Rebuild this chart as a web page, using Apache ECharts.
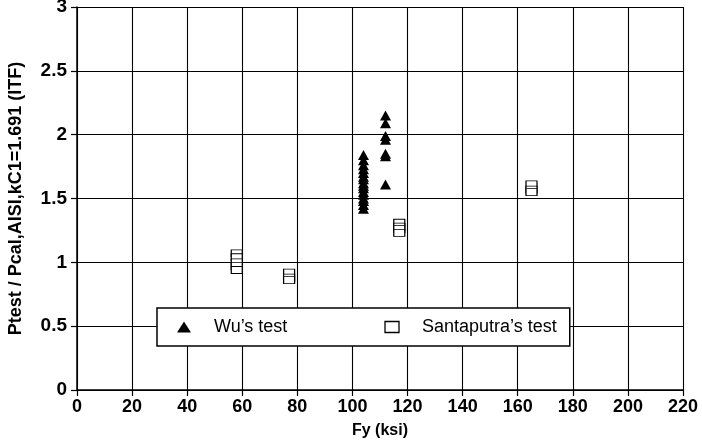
<!DOCTYPE html>
<html>
<head>
<meta charset="utf-8">
<script src="https://cdn.jsdelivr.net/npm/echarts@6/dist/echarts.min.js"></script>
<style>
    html, body { margin: 0; padding: 0; background: #fff; }
    #chart { width: 702px; height: 446px; }
</style>
</head>
<body>
<div id="chart"></div>
<script>
// Wu's test (triangles)
const wuFy = [104, 104, 104, 104, 104, 104, 104, 104, 104, 104, 104, 104, 104, 104, 104, 104,
              112, 112, 112, 112, 112, 112, 112];
const wuRatio = [1.84, 1.80, 1.76, 1.73, 1.70, 1.67, 1.65, 1.62, 1.60, 1.58, 1.55, 1.53, 1.50, 1.48, 1.45, 1.42,
                 2.15, 2.09, 1.99, 1.96, 1.85, 1.83, 1.61];

// Santaputra's test (squares)
const santFy = [58, 58, 58, 58, 58, 77, 77, 77, 117, 117, 117, 117, 165, 165, 165];
const santRatio = [1.07, 1.04, 1.00, 0.97, 0.94, 0.92, 0.88, 0.86, 1.31, 1.28, 1.26, 1.23, 1.61, 1.57, 1.55];

const xTicks = [0, 220, 20];
const yTicks = [0, 3, 0.5];

const zip = (a, b) => a.map((v, i) => [v, b[i]]);

const chart = echarts.init(document.getElementById('chart'));
const fontBold = { fontFamily: 'Liberation Sans', fontWeight: 'bold', color: '#000' };

chart.setOption({
    animation: false,
    grid: { left: 77, right: 19, top: 7, bottom: 56, outerBoundsMode: 'none', containLabel: false },
    legend: {
        left: 157, top: 308,
        padding: [10, 13, 10, 20],
        itemGap: 97,
        itemWidth: 14, itemHeight: 11,
        borderColor: '#000', borderWidth: 1.5,
        backgroundColor: '#fff',
        textStyle: { fontFamily: 'Liberation Sans', fontSize: 18, color: '#000', padding: [0, 0, 0, 18] },
        data: [
            { name: "Wu’s test", icon: 'triangle' },
            { name: "Santaputra’s test", icon: 'rect', itemStyle: { color: '#fff', borderColor: '#000', borderWidth: 1.3 } }
        ]
    },
    xAxis: {
        type: 'value',
        min: xTicks[0], max: xTicks[1], interval: xTicks[2],
        name: 'Fy (ksi)',
        nameLocation: 'middle', nameGap: 33,
        nameTextStyle: Object.assign({ fontSize: 16 }, fontBold),
        axisLine: { lineStyle: { color: '#000', width: 1.5 } },
        axisTick: { show: true, length: 6, lineStyle: { color: '#000', width: 1.2 } },
        axisLabel: Object.assign({ fontSize: 18, margin: 8 }, fontBold),
        splitLine: { show: true, lineStyle: { color: '#000', width: 1.1 } }
    },
    yAxis: {
        type: 'value',
        min: yTicks[0], max: yTicks[1], interval: yTicks[2],
        name: 'Ptest / Pcal,AISI,kC1=1.691 (ITF)',
        nameLocation: 'middle', nameGap: 52,
        nameTextStyle: Object.assign({ fontSize: 18 }, fontBold),
        axisLine: { lineStyle: { color: '#000', width: 1.5 } },
        axisTick: { show: true, length: 6, lineStyle: { color: '#000', width: 1.2 } },
        axisLabel: Object.assign({ fontSize: 19, margin: 10 }, fontBold),
        splitLine: { show: true, lineStyle: { color: '#000', width: 1.1 } }
    },
    series: [
        {
            name: "Wu’s test",
            type: 'scatter',
            symbol: 'triangle',
            symbolSize: [11, 10],
            itemStyle: { color: '#000', opacity: 1 },
            data: zip(wuFy, wuRatio)
        },
        {
            name: "Santaputra’s test",
            type: 'scatter',
            symbol: 'rect',
            symbolSize: [11, 7],
            itemStyle: { color: '#fff', borderColor: '#000', borderWidth: 1, opacity: 1 },
            data: zip(santFy, santRatio)
        }
    ]
});
</script>
</body>
</html>
